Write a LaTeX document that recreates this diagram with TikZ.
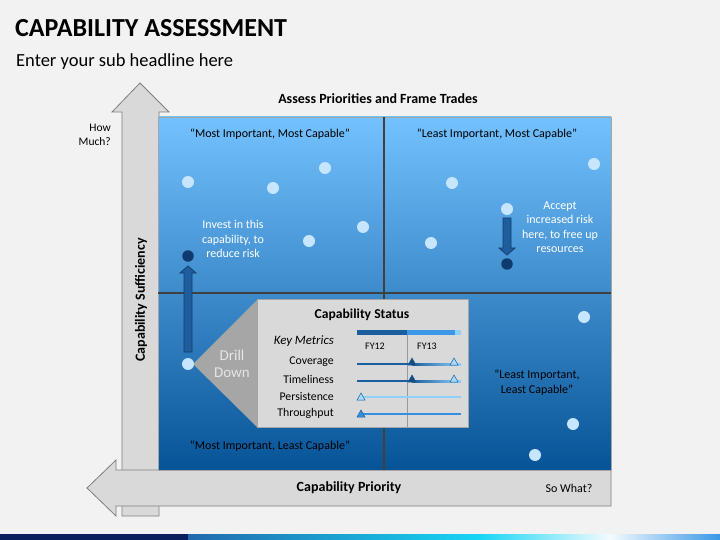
\documentclass[tikz,border=0pt]{standalone}
\usepackage{fontspec}
\setmainfont{Carlito}
\definecolor{pagegray}{HTML}{F2F2F2}
\definecolor{arrowgray}{HTML}{D9D9D9}
\definecolor{edgegray}{HTML}{7F7F7F}
\definecolor{quadtop}{HTML}{74C1FF}
\definecolor{quadmid}{HTML}{1F8BEB}
\definecolor{quadbot}{HTML}{065497}
\definecolor{dotlight}{HTML}{C6E5FF}
\definecolor{dotdark}{HTML}{0D3B6E}
\definecolor{moveblue}{HTML}{1F5E9E}
\definecolor{moveedge}{HTML}{153E6A}
\definecolor{navy}{HTML}{0B1F5E}
\definecolor{barblue}{HTML}{1B5E9E}
\definecolor{midblue}{HTML}{3A98E6}
\definecolor{paleblue}{HTML}{8DD0F8}
\definecolor{tripale}{HTML}{A8D8FA}

\begin{document}
\begin{tikzpicture}[x=1pt,y=-1pt,
    txt/.style={inner sep=0pt,text=black},
    head/.style={txt,font=\fontsize{14}{16}\selectfont\bfseries},
    quad/.style={txt,font=\fontsize{12}{15}\selectfont,align=center},
    note/.style={inner sep=0pt,text=white,font=\fontsize{12}{14.5}\selectfont,align=center},
    metric/.style={txt,font=\fontsize{11.8}{13}\selectfont,anchor=east},
    ldot/.style={circle,fill=dotlight,minimum size=12pt,inner sep=0pt},
    ddot/.style={circle,fill=dotdark,minimum size=11.5pt,inner sep=0pt},
    axisarrow/.style={fill=arrowgray,draw=edgegray,line width=0.8pt},
    move/.style={fill=moveblue,draw=moveedge,line width=0.8pt},
    tri/.style={draw=barblue,line width=0.5pt}]
  \useasboundingbox[fill=pagegray] (0,0) rectangle (720,540);
  \node[txt,anchor=base west,font=\fontsize{26}{28}\selectfont\bfseries] (title) at (15,37) {CAPABILITY ASSESSMENT};
  \node[txt,anchor=base west,font=\fontsize{18.5}{20}\selectfont] (subtitle) at (16,67) {Enter your sub headline here};
  \fill[navy] (0,534) rectangle (188,540);
  \shade[left color=barblue!80!midblue,right color=cyan!60!midblue] (188,534) rectangle (480,540);
  \shade[left color=cyan!60!midblue,right color=white!90!paleblue] (480,534) rectangle (610,540);
  \shade[left color=white!90!paleblue,right color=midblue] (610,534) rectangle (720,540);
  \draw[axisarrow] (140,83) -- (169,112) -- (159,112) -- (159,516) -- (122,516) -- (122,112) -- (112,112) -- cycle;
  \draw[axisarrow] (87,488) -- (116,460) -- (116,470) -- (611,470) -- (611,506) -- (116,506) -- (116,516) -- cycle;
  \shade[top color=quadtop,middle color=quadmid,bottom color=quadbot] (158,117) rectangle (611,470);
  \draw[edgegray!70] (158,117) rectangle (611,470);
  \draw[black!75,line width=1.6pt] (384,117) -- (384,470) (158,293) -- (611,293);
  \node[head] (assess) at (378,99) {Assess Priorities and Frame Trades};
  \node[txt,font=\fontsize{11.5}{14}\selectfont,align=right,anchor=east] (howmuch) at (111,135) {How\\Much?};
  \node[head,rotate=90] (sufficiency) at (141,300) {Capability Sufficiency};
  \node[head] (priority) at (349,488) {Capability Priority};
  \node[txt,font=\fontsize{12}{14}\selectfont] (sowhat) at (569,488) {So What?};
  \node[quad] (mimc) at (270,134) {``Most Important, Most Capable''};
  \node[quad] (limc) at (497,134) {``Least Important, Most Capable''};
  \node[quad] (milc) at (270,446) {``Most Important, Least Capable''};
  \node[quad] (lilc) at (537,383) {``Least Important,\\Least Capable''};
  \node[note] (invest) at (233,239) {Invest in this\\capability, to\\reduce risk};
  \node[note] (accept) at (560,227) {Accept\\increased risk\\here, to free up\\resources};
  \foreach \n/\px/\py in {a/188/182,b/273/188,c/325/168,d/363/227,e/309/241,f/594/164,g/452/183,h/507/209,i/431/243,j/584/317,k/573/424,l/535/455}
    \node[ldot] (dot\n) at (\px,\py) {};
  \draw[move] (184,352) -- (184,273) -- (180,273) -- (188,266) -- (196,273) -- (192,273) -- (192,352) -- cycle;
  \draw[move] (503,218) -- (503,248) -- (499,248) -- (507,255) -- (515,248) -- (511,248) -- (511,218) -- cycle;
  \node[ddot] (up) at (188,256) {};
  \node[ddot] (down) at (507,264) {};
  \fill[black!35] (193,364) -- (257,300) -- (257,427) -- cycle;
  \node[font=\fontsize{15}{17.5}\selectfont,text=black!10,align=center,inner sep=0pt] (drill) at (232,364) {Drill\\Down};
  \node[ldot] (start) at (188,364) {};
  \draw[fill=arrowgray,draw=black!35] (257,299) rectangle (468,427);
  \node[head,font=\fontsize{13.6}{15}\selectfont\bfseries] (status) at (362,315) {Capability Status};
  \fill[barblue] (357,330) rectangle (407,335);
  \fill[midblue] (407,330) rectangle (455,335);
  \fill[paleblue] (455,330) rectangle (461,335);
  \draw[black!40] (407,335) -- (407,427);
  \node[metric,font=\fontsize{12.8}{14}\selectfont\itshape] (keys) at (334,341) {Key Metrics};
  \node[txt,font=\fontsize{10}{11}\selectfont] (fy12) at (375,346) {FY12};
  \node[txt,font=\fontsize{10}{11}\selectfont] (fy13) at (427,346) {FY13};
  \foreach \lab/\py in {Coverage/362,Timeliness/379}{
    \node[metric] at (334,\py) {\lab};
    \fill[barblue] (357,\py+1) rectangle (412,\py+3);
    \shade[left color=barblue,right color=paleblue] (412,\py+1) rectangle (461,\py+3);
    \draw[tri,fill=barblue!80!black] (412,\py-4) -- (416,\py+3) -- (408,\py+3) -- cycle;
    \draw[tri,fill=tripale] (454,\py-4) -- (458,\py+3) -- (450,\py+3) -- cycle;
  }
  \node[metric] (persist) at (334,396) {Persistence};
  \fill[paleblue] (361,396) rectangle (461,398);
  \draw[tri,fill=tripale] (361,393) -- (365,400) -- (357,400) -- cycle;
  \node[metric] (through) at (334,413) {Throughput};
  \fill[midblue!85!barblue] (361,413) rectangle (461,415);
  \draw[tri,fill=midblue!85!barblue] (361,410) -- (365,417) -- (357,417) -- cycle;
\end{tikzpicture}
\end{document}
